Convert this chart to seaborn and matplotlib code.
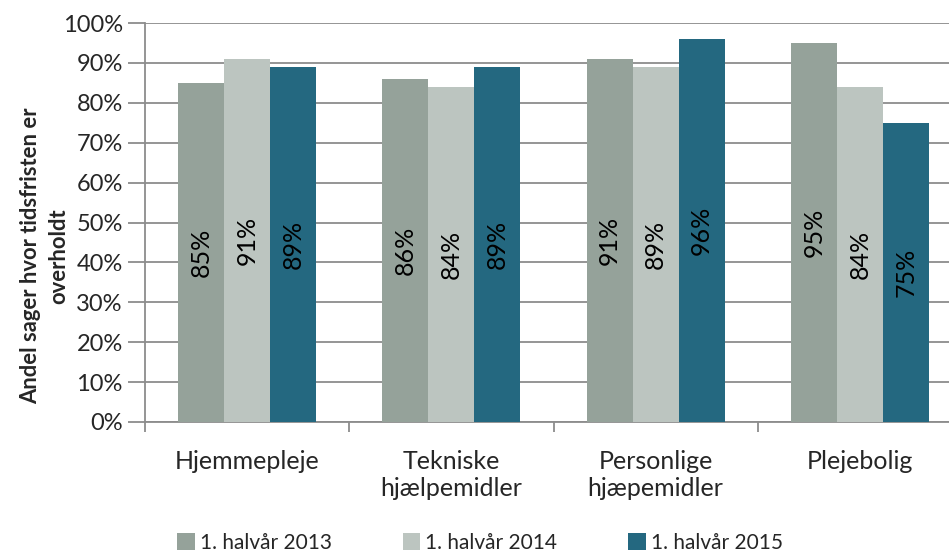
import matplotlib
matplotlib.use("Agg")
import matplotlib.pyplot as plt
import numpy as np
import pandas as pd
import seaborn as sns
from matplotlib.ticker import FixedLocator, PercentFormatter

categories = ["Hjemmepleje", "Tekniske\nhjælpemidler", "Personlige\nhjæpemidler", "Plejebolig"]
periods = ["1. halvår 2013", "1. halvår 2014", "1. halvår 2015"]
v2013 = [85, 86, 91, 95]
v2014 = [91, 84, 89, 84]
v2015 = [89, 89, 96, 75]
colors = ["#95A29A", "#BCC5C0", "#246880"]
ylabel = "Andel sager hvor tidsfristen er\noverholdt"

df = pd.DataFrame({
    "kategori": categories * 3,
    "periode": [p for p in periods for _ in categories],
    "andel": v2013 + v2014 + v2015,
})

sns.set_style("white")
plt.rcParams["font.family"] = ["Lato", "DejaVu Sans"]

fig = plt.figure(figsize=(9.49, 5.55), dpi=100)
ax = fig.add_axes([145 / 949, 133 / 555, 817 / 949, 399 / 555])

sns.barplot(data=df, x="kategori", y="andel", hue="periode", palette=colors,
            width=0.675, saturation=1, ax=ax, zorder=3, legend=True,
            edgecolor="none", linewidth=0)

# verdier midt i søjlerne, roteret
for cont in ax.containers:
    for bar in cont:
        h = bar.get_height()
        ax.text(bar.get_x() + bar.get_width() / 2, h / 2, f"{h:.0f}%",
                rotation=90, ha="center", va="center", fontsize=18, color="black", zorder=4)

ax.set_ylim(0, 100)
ax.set_xlim(-0.5, 3.5)
ax.yaxis.set_major_locator(FixedLocator(np.arange(0, 101, 10)))
ax.yaxis.set_major_formatter(PercentFormatter(decimals=0))
ax.grid(axis="y", color="#8C8C8C", linewidth=1.3, zorder=0)
ax.set_axisbelow(True)

for s in ["top", "right"]:
    ax.spines[s].set_visible(False)
for s in ["left", "bottom"]:
    ax.spines[s].set_color("#8C8C8C")
    ax.spines[s].set_linewidth(1.3)

ax.tick_params(axis="y", which="major", length=12, width=1.3, color="#8C8C8C",
               labelsize=17, pad=4, left=True)
ax.set_xticks(range(4))
ax.set_xticklabels(categories)
ax.tick_params(axis="x", which="major", length=0, labelsize=18, pad=20)
ax.xaxis.set_minor_locator(FixedLocator([-0.5, 0.5, 1.5, 2.5, 3.5]))
ax.tick_params(axis="x", which="minor", length=7, width=1.3, color="#8C8C8C", bottom=True)

ax.set_xlabel("")
ax.set_ylabel("")
fig.text(45 / 949, 1 - 256 / 555, ylabel, rotation=90, ha="center", va="center",
         multialignment="center", fontsize=15.8, fontweight="bold", linespacing=1.4)

handles, labels = ax.get_legend_handles_labels()
ax.legend(handles, labels, loc="center", bbox_to_anchor=(335 / 817, -121 / 399),
          ncol=3, frameon=False, fontsize=15, handlelength=0.85, handleheight=0.85,
          handletextpad=0.25, columnspacing=3.4)

fig.savefig("out.png", dpi=100)
